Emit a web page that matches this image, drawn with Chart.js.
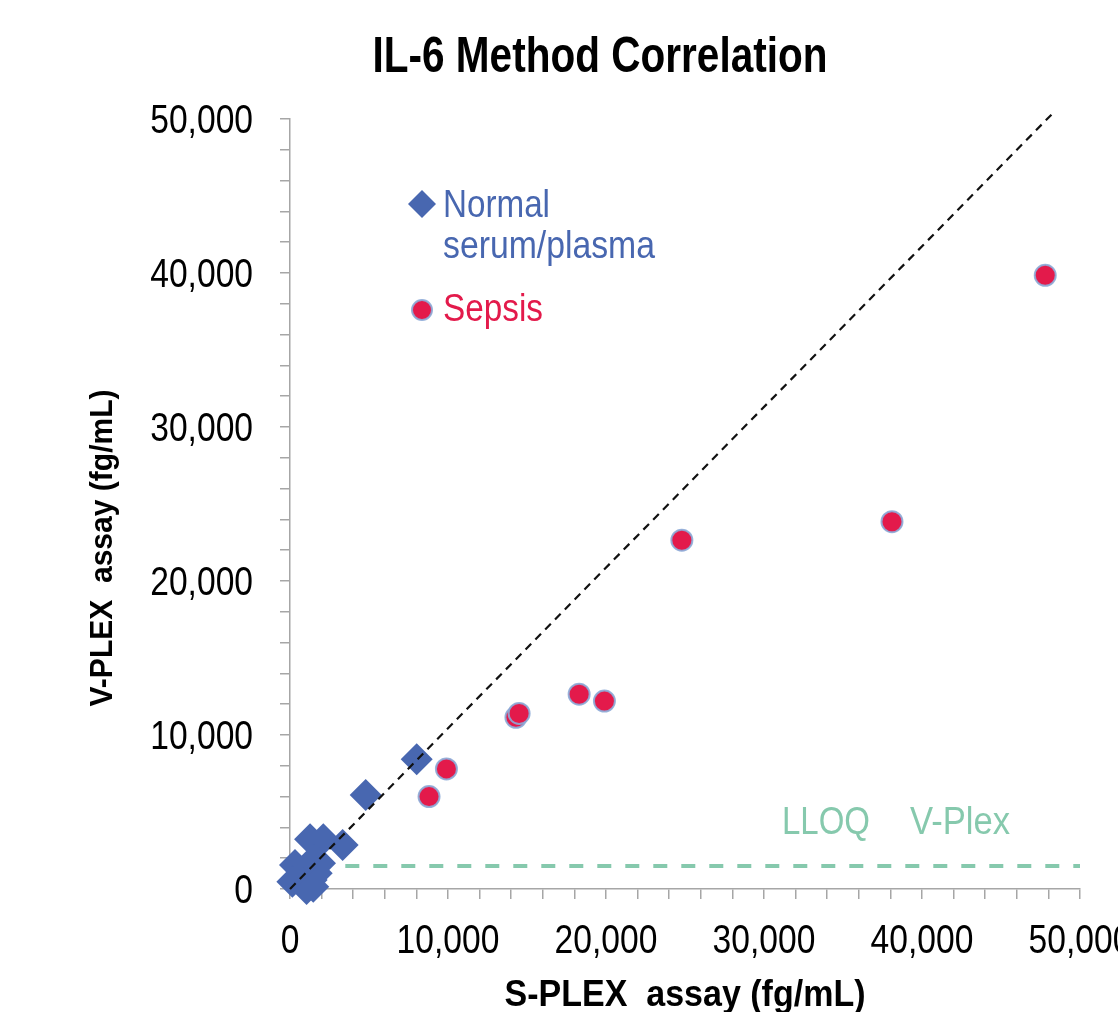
<!DOCTYPE html>
<html>
<head>
<meta charset="utf-8">
<script src="https://cdn.jsdelivr.net/npm/chart.js@4"></script>
<style>
  body { margin: 0; background: #fff; }
  canvas { display: block; }
</style>
</head>
<body>
<canvas id="corr" width="1118" height="1012"></canvas>
<script>
// values (fg/mL)
const normalX = [8020, 4790, 1270, 2110, 3330, 316, 1470, 1900, 740, 1690, 150, 840, 1370, 1050, 1470];
const normalY = [8420, 6100, 3230, 3230, 2860, 1560, 1880, 1670, 1120, 1020, 470, 370, 580, 0, 150];
const sepsisX = [47800, 38100, 24800, 18300, 19900, 14300, 14500, 9900, 8800];
const sepsisY = [39850, 23850, 22650, 12650, 12200, 11150, 11400, 7800, 6000];
const identityX = [0, 48400];
const identityY = [0, 50500];
const lloqX = [3500, 50000];
const lloqY = [1500, 1500];
const majorTicks = [0, 10000, 20000, 30000, 40000, 50000];

const TITLE = 'IL-6 Method Correlation';
const X_TITLE = 'S-PLEX  assay (fg/mL)';
const Y_TITLE = 'V-PLEX  assay (fg/mL)';
const LEGEND = [['Normal', 'serum/plasma'], ['Sepsis']];
const LLOQ_TEXT = ['LLOQ', 'V-Plex'];

const FONT = '"Liberation Sans", Arial, sans-serif';
const BLUE = '#4867b0', RED = '#e31a4b', GREEN = '#86c9ad', AXIS = '#a6a6a6', RING = 'rgba(140,170,215,0.9)';
const NARROW = 0.84; // the original uses a condensed face

const pts = (xs, ys) => xs.map((v, i) => ({ x: v, y: ys[i] }));

// draw text squeezed horizontally, either by a factor or to a given width
function squeeze(ctx, text, x, y, k, align) {
  ctx.save();
  ctx.translate(x, y);
  ctx.scale(k, 1);
  ctx.textAlign = align;
  ctx.fillText(text, 0, 0);
  ctx.restore();
}
function fit(ctx, text, x, y, width, align) {
  squeeze(ctx, text, x, y, width / ctx.measureText(text).width, align);
}

const overlay = {
  id: 'overlay',
  afterDraw(chart) {
    const { ctx, chartArea: a, scales: { x, y } } = chart;
    ctx.save();
    ctx.textBaseline = 'alphabetic';
    ctx.fillStyle = '#000';

    // tick labels
    ctx.font = '40px ' + FONT;
    majorTicks.forEach(v => {
      const s = v.toLocaleString('en-US');
      squeeze(ctx, s, x.getPixelForValue(v), 953, NARROW, 'center');
      squeeze(ctx, s, 253, y.getPixelForValue(v) + 14, NARROW, 'right');
    });

    ctx.font = 'bold 50px ' + FONT;
    fit(ctx, TITLE, 600, 72, 455, 'center');
    ctx.font = 'bold 37px ' + FONT;
    fit(ctx, X_TITLE, (a.left + a.right) / 2, 1006, 361, 'center');
    ctx.save();
    ctx.translate(112, 548);
    ctx.rotate(-Math.PI / 2);
    ctx.font = 'bold 32px ' + FONT;
    fit(ctx, Y_TITLE, 0, 0, 317, 'center');
    ctx.restore();

    // legend
    ctx.font = '38px ' + FONT;
    ctx.fillStyle = BLUE;
    Chart.helpers.drawPoint(ctx, { pointStyle: 'rectRot', radius: 14, rotation: 0, borderWidth: 0 }, 422, 204);
    fit(ctx, LEGEND[0][0], 443, 217, 107, 'left');
    fit(ctx, LEGEND[0][1], 443, 258, 212, 'left');
    ctx.fillStyle = RED;
    ctx.strokeStyle = RING;
    ctx.lineWidth = 2;
    Chart.helpers.drawPoint(ctx, { pointStyle: 'circle', radius: 10, rotation: 0, borderWidth: 2 }, 422, 310);
    fit(ctx, LEGEND[1][0], 443, 321, 100, 'left');

    // LLOQ note
    ctx.fillStyle = GREEN;
    fit(ctx, LLOQ_TEXT[0], 782, 834, 88, 'left');
    fit(ctx, LLOQ_TEXT[1], 910, 834, 100, 'left');
    ctx.restore();
  }
};

new Chart(document.getElementById('corr'), {
  type: 'scatter',
  data: {
    datasets: [
      { label: 'identity', data: pts(identityX, identityY), showLine: true, borderColor: '#111',
        borderWidth: 2.2, borderDash: [8, 6], pointRadius: 0, clip: false, order: 1 },
      { label: 'LLOQ', data: pts(lloqX, lloqY), showLine: true, borderColor: GREEN,
        borderWidth: 4, borderDash: [14, 14], pointRadius: 0, clip: false, order: 2 },
      { label: 'Sepsis', data: pts(sepsisX, sepsisY), pointStyle: 'circle', pointRadius: 10.5,
        backgroundColor: RED, borderColor: RING, borderWidth: 2, clip: false, order: 3 },
      { label: 'Normal serum/plasma', data: pts(normalX, normalY), pointStyle: 'rectRot', pointRadius: 16,
        backgroundColor: BLUE, borderColor: BLUE, borderWidth: 0, clip: false, order: 4 }
    ]
  },
  options: {
    responsive: false,
    animation: false,
    layout: { padding: { top: 119, right: 38, left: 0, bottom: 0 } },
    plugins: { legend: { display: false }, tooltip: { enabled: false } },
    scales: {
      x: {
        type: 'linear', min: 0, max: 50000,
        ticks: { stepSize: 2000, autoSkip: false, maxRotation: 0, callback: () => '' },
        grid: { drawOnChartArea: false, drawTicks: true, tickLength: 10, color: AXIS, lineWidth: 1.5 },
        border: { color: AXIS, width: 1.5 },
        afterFit: s => { s.height = 123; s.paddingLeft = 0; s.paddingRight = 0; }
      },
      y: {
        type: 'linear', min: 0, max: 50000,
        ticks: { stepSize: 2000, autoSkip: false, callback: () => '' },
        grid: { drawOnChartArea: false, drawTicks: true, tickLength: 10, color: AXIS, lineWidth: 1.5 },
        border: { color: AXIS, width: 1.5 },
        afterFit: s => { s.width = 290; }
      }
    }
  },
  plugins: [overlay]
});
</script>
</body>
</html>
